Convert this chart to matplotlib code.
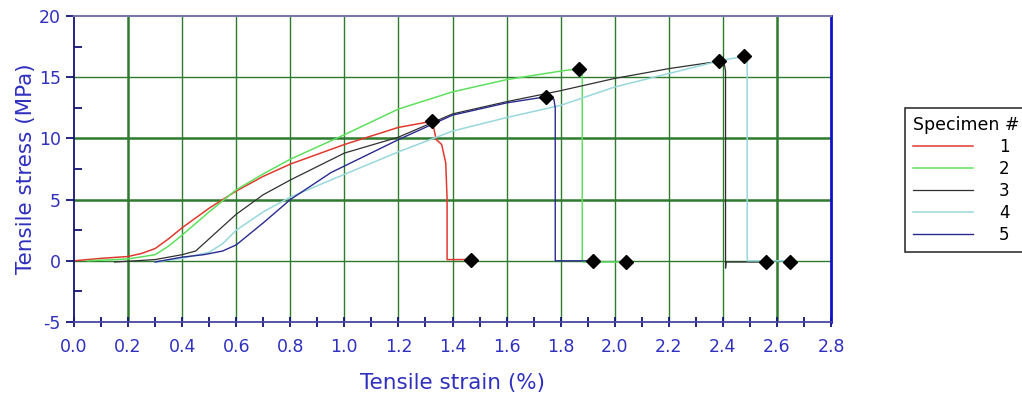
import numpy as np
import matplotlib.pyplot as plt

plt.rcParams['axes.unicode_minus'] = False

# stress-strain curves (strain %, stress MPa)
strain_1 = [0, 0.1, 0.2, 0.25, 0.3, 0.35, 0.4, 0.5, 0.6, 0.7, 0.8, 0.9, 1.0, 1.1, 1.2, 1.3, 1.325,
            1.34, 1.36, 1.375, 1.38, 1.38, 1.47]
stress_1 = [0, 0.2, 0.35, 0.6, 1.0, 1.8, 2.7, 4.3, 5.7, 6.9, 7.9, 8.7, 9.5, 10.2, 10.9, 11.3, 11.4,
            9.9, 9.5, 8.0, 5.0, 0.1, 0.1]

strain_2 = [0.05, 0.2, 0.3, 0.35, 0.4, 0.5, 0.6, 0.7, 0.8, 0.9, 1.0, 1.2, 1.4, 1.6, 1.8, 1.867,
            1.88, 1.88, 2.04]
stress_2 = [0, 0.15, 0.5, 1.2, 2.1, 4.0, 5.8, 7.1, 8.3, 9.3, 10.3, 12.4, 13.8, 14.8, 15.5, 15.7,
            15.6, -0.1, -0.1]

strain_3 = [0.15, 0.3, 0.4, 0.45, 0.5, 0.6, 0.7, 0.8, 0.9, 1.0, 1.2, 1.4, 1.6, 1.8, 2.0, 2.2, 2.385,
            2.405, 2.41, 2.41, 2.412, 2.56]
stress_3 = [-0.1, 0.1, 0.5, 0.8, 1.8, 3.8, 5.4, 6.6, 7.7, 8.8, 10.1, 12.0, 13.0, 13.9, 14.9, 15.7, 16.3,
            16.1, 15.5, -0.6, -0.1, -0.1]

strain_4 = [0.3, 0.4, 0.5, 0.55, 0.6, 0.7, 0.8, 0.95, 1.2, 1.4, 1.6, 1.8, 2.0, 2.2, 2.4, 2.48,
            2.49, 2.49, 2.65]
stress_4 = [-0.1, 0.2, 0.7, 1.4, 2.5, 4.0, 5.2, 6.6, 8.9, 10.6, 11.7, 12.7, 14.2, 15.3, 16.4, 16.7,
            16.6, 0.0, 0.0]

strain_5 = [0.3, 0.4, 0.48, 0.55, 0.6, 0.7, 0.8, 0.95, 1.2, 1.32, 1.4, 1.6, 1.745, 1.775, 1.78, 1.78, 1.92]
stress_5 = [-0.1, 0.3, 0.5, 0.8, 1.3, 3.1, 5.0, 7.2, 9.9, 11.1, 11.9, 12.9, 13.4, 13.2, 12.5, 0.0, 0.0]

# break points and end points (diamonds)
mark_strain = [1.325, 1.47, 1.867, 2.04, 2.385, 2.56, 2.48, 2.65, 1.745, 1.92]
mark_stress = [11.4, 0.1, 15.7, -0.1, 16.3, -0.1, 16.7, -0.1, 13.4, 0.0]

labels = ['1', '2', '3', '4', '5']
colors = ['#e03a2e', '#5ee05e', '#303030', '#98d8dc', '#2a2a90']
widths = [1.1, 1.1, 0.9, 1.1, 1.0]

xs = [strain_1, strain_2, strain_3, strain_4, strain_5]
ys = [stress_1, stress_2, stress_3, stress_4, stress_5]

blue = '#3030c0'
navy = '#141478'
grid_green = '#2e7a2e'

fig = plt.figure(figsize=(10.22, 3.98), dpi=100)
ax = fig.add_axes([74/1022, 1-322/398, 757/1022, 306/398])

# grid, a few lines drawn heavier like in the original
for gx in np.arange(0.2, 2.8, 0.2):
    lw = 1.8 if (abs(gx-0.2) < 1e-6 or abs(gx-2.6) < 1e-6) else 1.0
    ax.axvline(gx, color=grid_green, lw=lw, zorder=0)
for gy in [0, 5, 10, 15]:
    lw = 1.8 if gy in (5, 10) else 1.0
    ax.axhline(gy, color=grid_green, lw=lw, zorder=0)

for x, y, c, lw, lab in zip(xs, ys, colors, widths, labels):
    ax.plot(x, y, color=c, lw=lw, label=lab, zorder=2)

ax.plot(mark_strain, mark_stress, 'D', color='black', ms=7, zorder=3, linestyle='none')

ax.set_xlim(0, 2.8)
ax.set_ylim(-5, 20)
ax.set_xticks(np.arange(0, 2.81, 0.2))
ax.set_xticks(np.arange(0.1, 2.8, 0.2), minor=True)
ax.set_yticks([-5, 0, 5, 10, 15, 20])
ax.set_yticks([-2.5, 2.5, 7.5, 12.5, 17.5], minor=True)
ax.set_xticklabels(['%.1f' % v for v in np.arange(0, 2.81, 0.2)])

ax.tick_params(axis='x', which='both', direction='inout', length=7, width=1.3,
               colors=navy, labelcolor=blue, labelsize=12.5, pad=8)
ax.tick_params(axis='y', which='major', direction='out', length=6, width=1.3,
               colors=navy, labelcolor=blue, labelsize=12.5)
ax.tick_params(axis='y', which='minor', direction='in', length=6, width=1.3, colors=navy)

ax.spines['left'].set_color(navy)
ax.spines['left'].set_linewidth(1.3)
ax.spines['bottom'].set_color('#4848a0')
ax.spines['bottom'].set_linewidth(1.3)
ax.spines['top'].set_color('#7878a8')
ax.spines['top'].set_linewidth(1.5)
ax.spines['right'].set_color('#1010c8')
ax.spines['right'].set_linewidth(2)

ax.set_xlabel('Tensile strain (%)', color=blue, fontsize=15.5, labelpad=12)
ax.set_ylabel('Tensile stress (MPa)', color=blue, fontsize=15.5, labelpad=2)

leg = fig.legend(loc='upper left', bbox_to_anchor=(905/1022, 1-108/398), title='Specimen #',
                 fontsize=12, title_fontsize=12.5, frameon=True, fancybox=False,
                 edgecolor='black', handlelength=3.6, handletextpad=1.6, labelspacing=0.25,
                 borderaxespad=0, borderpad=0.45)
leg._legend_box.align = 'left'
leg.get_frame().set_linewidth(1.2)

plt.savefig('out.png', dpi=100)
